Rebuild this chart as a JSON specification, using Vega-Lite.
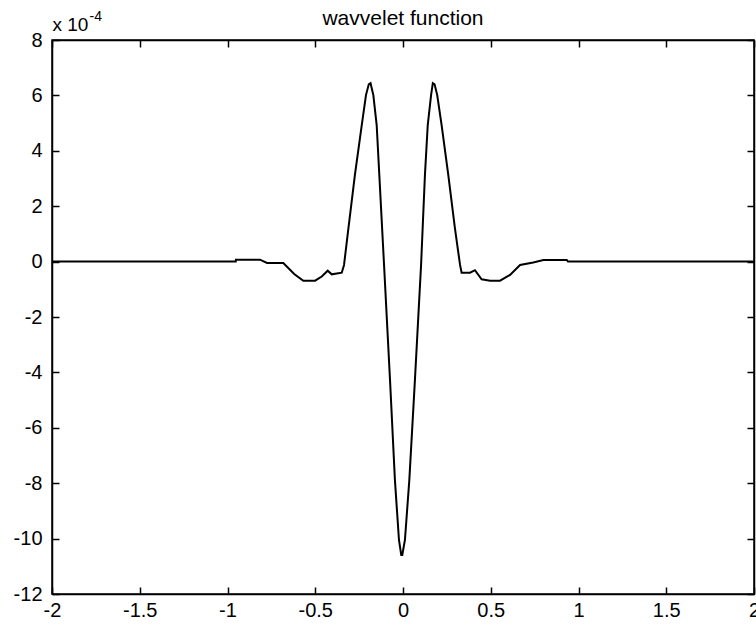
{
  "$schema": "https://vega.github.io/schema/vega-lite/v6.json",
  "width": 702,
  "height": 554,
  "autosize": {"type": "none"},
  "padding": {"left": 52, "top": 40, "right": 2, "bottom": 32},
  "background": "white",
  "title": {"text": "wavvelet function", "font": "Liberation Sans", "fontSize": 21, "fontWeight": "normal", "color": "black", "anchor": "middle", "baseline": "alphabetic", "offset": 16, "dy": 53},
  "config": {
    "view": {"stroke": "black", "strokeWidth": 1.5},
    "axis": {"grid": false, "domainColor": "black", "domainWidth": 1.5, "tickColor": "black", "tickWidth": 1.5, "tickSize": -7, "labelFont": "Liberation Sans", "labelFontSize": 20, "labelColor": "black", "titleFont": "Liberation Sans", "titleFontWeight": "normal", "titleColor": "black", "titleFontSize": 19}
  },
  "data": {"values": [
    {"x": -2, "y": 0},
    {"x": -0.953, "y": 0},
    {"x": -0.952, "y": 0.07},
    {"x": -0.815, "y": 0.07},
    {"x": -0.775, "y": -0.05},
    {"x": -0.682, "y": -0.05},
    {"x": -0.62, "y": -0.45},
    {"x": -0.568, "y": -0.69},
    {"x": -0.501, "y": -0.69},
    {"x": -0.463, "y": -0.54},
    {"x": -0.429, "y": -0.33},
    {"x": -0.406, "y": -0.46},
    {"x": -0.349, "y": -0.4},
    {"x": -0.336, "y": -0.12},
    {"x": -0.313, "y": 1.1},
    {"x": -0.274, "y": 3.13},
    {"x": -0.235, "y": 4.93},
    {"x": -0.211, "y": 6.01},
    {"x": -0.195, "y": 6.4},
    {"x": -0.185, "y": 6.44},
    {"x": -0.169, "y": 6.01},
    {"x": -0.15, "y": 4.93},
    {"x": -0.135, "y": 3.13},
    {"x": -0.108, "y": -0.12},
    {"x": -0.074, "y": -4.27},
    {"x": -0.046, "y": -7.89},
    {"x": -0.023, "y": -10.05},
    {"x": -0.01, "y": -10.59},
    {"x": -0.004, "y": -10.59},
    {"x": 0.011, "y": -10.05},
    {"x": 0.036, "y": -7.89},
    {"x": 0.068, "y": -4.27},
    {"x": 0.103, "y": -0.12},
    {"x": 0.125, "y": 3.13},
    {"x": 0.141, "y": 4.93},
    {"x": 0.16, "y": 6.01},
    {"x": 0.17, "y": 6.44},
    {"x": 0.18, "y": 6.4},
    {"x": 0.195, "y": 6.01},
    {"x": 0.22, "y": 4.93},
    {"x": 0.258, "y": 3.13},
    {"x": 0.296, "y": 1.2},
    {"x": 0.325, "y": -0.12},
    {"x": 0.334, "y": -0.4},
    {"x": 0.382, "y": -0.4},
    {"x": 0.41, "y": -0.31},
    {"x": 0.448, "y": -0.64},
    {"x": 0.496, "y": -0.69},
    {"x": 0.553, "y": -0.69},
    {"x": 0.61, "y": -0.48},
    {"x": 0.667, "y": -0.12},
    {"x": 0.742, "y": -0.03},
    {"x": 0.8, "y": 0.06},
    {"x": 0.933, "y": 0.06},
    {"x": 0.94, "y": 0},
    {"x": 2, "y": 0}
  ]},
  "layer": [
    {
      "mark": {"type": "line", "color": "black", "strokeWidth": 2, "clip": true},
      "encoding": {
        "x": {"field": "x", "type": "quantitative", "scale": {"domain": [-2, 2], "nice": false, "zero": false},
          "axis": {"orient": "bottom", "title": null, "values": [-2, -1.5, -1, -0.5, 0, 0.5, 1, 1.5, 2], "labelPadding": 13,
            "labelExpr": "datum.value < 0 ? '-' + format(-datum.value, '') : format(datum.value, '')", "labelFlush": false, "labelOverlap": false}},
        "y": {"field": "y", "type": "quantitative", "scale": {"domain": [-12, 8], "nice": false, "zero": false},
          "axis": {"orient": "left", "values": [-12, -10, -8, -6, -4, -2, 0, 2, 4, 6, 8], "labelPadding": 17,
            "labelExpr": "datum.value < 0 ? '-' + format(-datum.value, '') : format(datum.value, '')", "labelFlush": false, "labelOverlap": false,
            "title": "x 10", "titleAngle": 0, "titleAlign": "left", "titleBaseline": "alphabetic", "titleX": 0, "titleY": -10}}
      }
    },
    {
      "mark": {"type": "line", "strokeOpacity": 0},
      "encoding": {
        "x": {"field": "x", "type": "quantitative", "scale": {"domain": [-2, 2], "nice": false, "zero": false},
          "axis": {"orient": "top", "title": null, "values": [-2, -1.5, -1, -0.5, 0, 0.5, 1, 1.5, 2], "labels": false}},
        "y": {"field": "y", "type": "quantitative", "scale": {"domain": [-12, 8], "nice": false, "zero": false},
          "axis": {"orient": "right", "values": [-12, -10, -8, -6, -4, -2, 0, 2, 4, 6, 8], "labels": false,
            "title": "-4", "titleFontSize": 14, "titleAngle": 0, "titleAlign": "left", "titleBaseline": "alphabetic", "titleX": -665, "titleY": -20}}
      }
    }
  ],
  "resolve": {"axis": {"x": "independent", "y": "independent"}}
}
